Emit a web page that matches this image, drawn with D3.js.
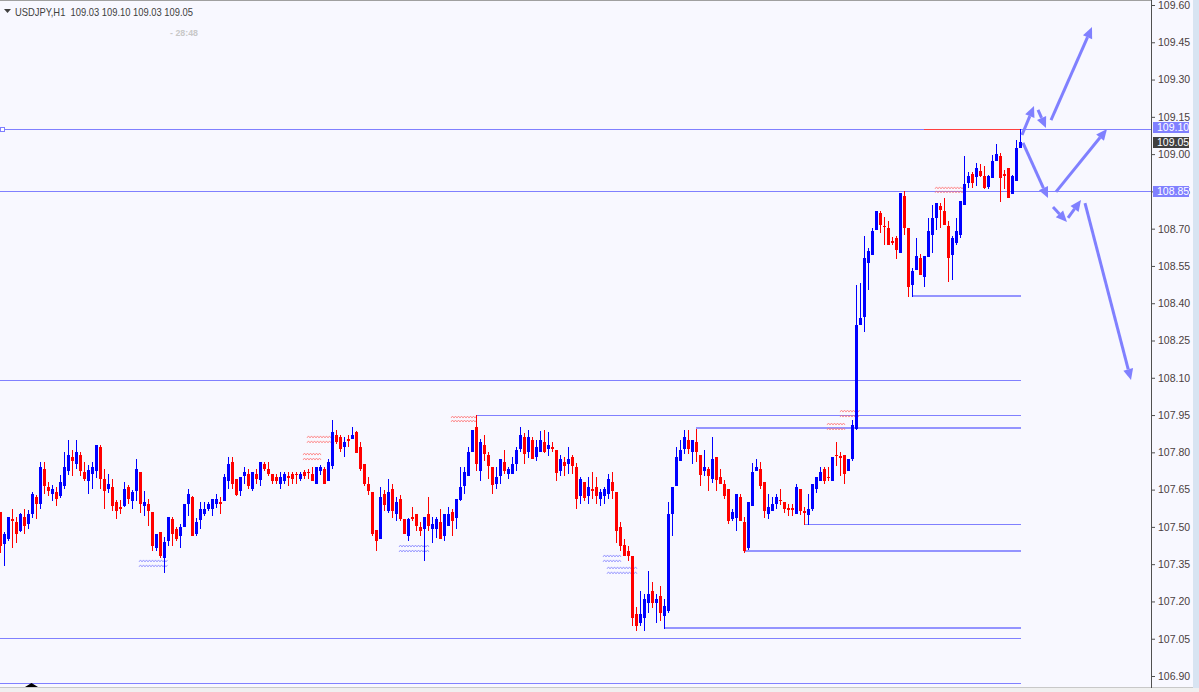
<!DOCTYPE html>
<html><head><meta charset="utf-8">
<script src="https://cdn.jsdelivr.net/npm/d3@7"></script>
<style>html,body{margin:0;padding:0;background:#f8f8ff;overflow:hidden}svg{display:block}</style>
</head><body><svg id="c" width="1199" height="692"></svg>
<script>
const symbol = "USDJPY,H1";
const opens = [107.561,107.437,107.454,107.532,107.521,107.487,107.538,107.517,107.555,107.622,107.595,107.733,107.659,107.638,107.640,107.628,107.669,107.729,107.781,107.758,107.789,107.721,107.689,107.718,107.729,107.821,107.693,107.656,107.660,107.600,107.581,107.588,107.660,107.608,107.648,107.721,107.588,107.592,107.560,107.420,107.479,107.380,107.447,107.532,107.491,107.467,107.504,107.595,107.620,107.477,107.530,107.555,107.575,107.575,107.595,107.601,107.608,107.689,107.761,107.693,107.648,107.709,107.713,107.656,107.713,107.693,107.753,107.733,107.713,107.701,107.678,107.689,107.703,107.713,107.714,107.698,107.721,107.722,107.713,107.678,107.729,107.733,107.689,107.749,107.871,107.862,107.827,107.852,107.859,107.882,107.821,107.753,107.673,107.640,107.488,107.455,107.632,107.568,107.652,107.557,107.612,107.532,107.467,107.540,107.552,107.500,107.497,107.552,107.497,107.497,107.520,107.467,107.509,107.560,107.538,107.612,107.668,107.709,107.805,107.902,107.730,107.829,107.789,107.741,107.678,107.709,107.761,107.717,107.717,107.757,107.819,107.862,107.807,107.850,107.787,107.807,107.842,107.819,107.821,107.809,107.729,107.761,107.757,107.781,107.741,107.628,107.681,107.628,107.652,107.660,107.616,107.628,107.638,107.681,107.640,107.501,107.427,107.404,107.383,107.149,107.117,107.137,107.198,107.242,107.198,107.222,107.145,107.166,107.556,107.669,107.769,107.819,107.850,107.807,107.842,107.789,107.729,107.733,107.695,107.781,107.701,107.673,107.652,107.536,107.541,107.620,107.520,107.420,107.588,107.729,107.733,107.681,107.556,107.568,107.597,107.610,107.600,107.575,107.575,107.556,107.652,107.562,107.552,107.576,107.656,107.689,107.733,107.702,107.689,107.791,107.784,107.791,107.729,107.778,107.897,108.317,108.349,108.567,108.598,108.699,108.763,108.712,108.703,108.650,108.663,108.608,108.832,108.703,108.478,108.538,108.582,108.510,108.590,108.679,108.747,108.791,108.771,108.711,108.598,108.646,108.679,108.799,108.889,108.919,108.913,108.932,108.913,108.873,108.909,108.978,108.992,108.919,108.943,108.842,108.896,109.03];
const highs = [107.561,107.481,107.541,107.572,107.541,107.554,107.572,107.568,107.642,107.628,107.762,107.762,107.679,107.669,107.662,107.709,107.800,107.850,107.809,107.850,107.801,107.761,107.749,107.761,107.829,107.829,107.733,107.713,107.691,107.608,107.608,107.681,107.669,107.648,107.773,107.722,107.644,107.612,107.560,107.471,107.479,107.458,107.540,107.540,107.500,107.513,107.592,107.652,107.624,107.535,107.599,107.599,107.601,107.612,107.631,107.620,107.713,107.783,107.783,107.693,107.701,107.741,107.733,107.721,107.733,107.761,107.761,107.761,107.713,107.713,107.721,107.721,107.721,107.721,107.721,107.721,107.729,107.733,107.741,107.741,107.749,107.741,107.775,107.930,107.890,107.871,107.862,107.871,107.903,107.887,107.843,107.753,107.701,107.640,107.488,107.659,107.648,107.693,107.673,107.620,107.628,107.532,107.534,107.580,107.552,107.520,107.538,107.620,107.541,107.541,107.572,107.552,107.580,107.572,107.612,107.741,107.741,107.821,107.890,107.950,107.854,107.870,107.803,107.741,107.741,107.773,107.809,107.741,107.781,107.821,107.902,107.879,107.890,107.862,107.850,107.887,107.890,107.882,107.842,107.809,107.789,107.781,107.821,107.789,107.757,107.702,107.681,107.702,107.721,107.701,107.652,107.660,107.713,107.721,107.640,107.518,107.451,107.423,107.383,107.179,107.242,107.229,107.322,107.279,107.230,107.262,107.210,107.599,107.660,107.821,107.850,107.890,107.890,107.850,107.895,107.789,107.809,107.741,107.863,107.781,107.733,107.689,107.652,107.572,107.632,107.632,107.541,107.600,107.757,107.773,107.761,107.681,107.632,107.620,107.632,107.652,107.600,107.592,107.592,107.673,107.652,107.580,107.632,107.673,107.701,107.741,107.741,107.741,107.781,107.841,107.801,107.791,107.773,107.930,108.473,108.481,108.671,108.622,108.703,108.771,108.771,108.747,108.731,108.667,108.671,108.844,108.852,108.703,108.542,108.663,108.598,108.590,108.743,108.795,108.803,108.803,108.823,108.731,108.671,108.743,108.811,108.994,108.929,108.929,108.963,108.959,108.953,108.916,108.996,109.041,109.003,108.936,108.943,108.916,109.057,109.10];
const lows = [107.400,107.347,107.447,107.420,107.441,107.485,107.474,107.497,107.541,107.537,107.577,107.638,107.628,107.608,107.588,107.622,107.658,107.713,107.709,107.738,107.709,107.689,107.638,107.655,107.702,107.655,107.575,107.642,107.568,107.537,107.555,107.584,107.595,107.577,107.608,107.559,107.548,107.508,107.407,107.407,107.380,107.320,107.427,107.427,107.447,107.420,107.504,107.548,107.467,107.467,107.497,107.548,107.568,107.548,107.579,107.557,107.608,107.656,107.656,107.628,107.628,107.678,107.656,107.648,107.675,107.668,107.729,107.709,107.678,107.678,107.656,107.678,107.668,107.678,107.678,107.689,107.698,107.698,107.689,107.678,107.713,107.678,107.689,107.737,107.836,107.807,107.787,107.827,107.859,107.803,107.729,107.668,107.632,107.467,107.407,107.455,107.568,107.561,107.538,107.528,107.528,107.477,107.447,107.528,107.488,107.467,107.367,107.488,107.441,107.461,107.457,107.447,107.509,107.467,107.497,107.608,107.637,107.709,107.805,107.729,107.689,107.769,107.697,107.637,107.656,107.678,107.717,107.697,107.717,107.729,107.807,107.757,107.781,107.779,107.769,107.807,107.803,107.789,107.807,107.689,107.709,107.709,107.717,107.717,107.575,107.596,107.608,107.596,107.616,107.596,107.588,107.596,107.616,107.616,107.441,107.407,107.387,107.367,107.105,107.085,107.105,107.085,107.157,107.179,107.117,107.125,107.092,107.157,107.467,107.669,107.769,107.797,107.797,107.758,107.766,107.669,107.709,107.648,107.682,107.648,107.678,107.616,107.514,107.528,107.487,107.528,107.400,107.410,107.588,107.729,107.656,107.541,107.536,107.568,107.576,107.592,107.560,107.548,107.548,107.556,107.552,107.512,107.512,107.568,107.640,107.689,107.675,107.689,107.689,107.749,107.709,107.678,107.729,107.769,107.893,108.317,108.290,108.457,108.598,108.699,108.688,108.640,108.640,108.640,108.580,108.608,108.679,108.431,108.431,108.538,108.518,108.470,108.590,108.606,108.699,108.707,108.719,108.490,108.498,108.638,108.667,108.799,108.869,108.869,108.876,108.913,108.865,108.865,108.909,108.978,108.811,108.862,108.829,108.842,108.896,109.03];
const closes = [107.427,107.471,107.538,107.528,107.477,107.552,107.508,107.552,107.632,107.597,107.742,107.669,107.648,107.652,107.618,107.681,107.741,107.789,107.769,107.801,107.729,107.697,107.729,107.741,107.829,107.697,107.648,107.673,107.588,107.568,107.578,107.652,107.616,107.640,107.733,107.597,107.600,107.568,107.427,107.471,107.387,107.439,107.540,107.477,107.455,107.500,107.592,107.632,107.467,107.521,107.572,107.572,107.592,107.612,107.612,107.598,107.701,107.753,107.678,107.632,107.701,107.721,107.668,107.721,107.698,107.761,107.737,107.717,107.689,107.689,107.701,107.713,107.700,107.698,107.711,107.713,107.709,107.719,107.689,107.741,107.741,107.678,107.761,107.882,107.847,107.819,107.843,107.849,107.871,107.803,107.737,107.678,107.648,107.477,107.447,107.620,107.591,107.640,107.568,107.600,107.534,107.477,107.532,107.537,107.509,107.488,107.538,107.509,107.512,107.532,107.457,107.552,107.552,107.528,107.612,107.661,107.721,107.801,107.890,107.757,107.843,107.798,107.749,107.671,107.701,107.773,107.729,107.733,107.753,107.809,107.871,107.799,107.862,107.779,107.821,107.850,107.807,107.829,107.818,107.721,107.773,107.749,107.773,107.749,107.616,107.693,107.619,107.660,107.649,107.628,107.640,107.651,107.693,107.648,107.488,107.427,107.387,107.387,107.139,107.105,107.149,107.210,107.229,107.198,107.210,107.157,107.182,107.552,107.660,107.781,107.809,107.862,107.819,107.850,107.807,107.712,107.741,107.709,107.773,107.691,107.678,107.628,107.528,107.560,107.632,107.528,107.407,107.600,107.721,107.741,107.669,107.568,107.580,107.592,107.620,107.607,107.576,107.572,107.572,107.660,107.568,107.559,107.572,107.673,107.701,107.721,107.689,107.699,107.781,107.788,107.781,107.717,107.773,107.910,108.313,108.341,108.582,108.610,108.691,108.771,108.720,108.710,108.640,108.647,108.618,108.844,108.707,108.470,108.530,108.590,108.518,108.590,108.691,108.743,108.803,108.779,108.719,108.586,108.663,108.691,108.811,108.878,108.912,108.889,108.943,108.916,108.869,108.913,108.974,108.999,108.909,108.916,108.829,108.913,109.023,109.05];

const yTicks = [109.60,109.45,109.30,109.15,109.00,108.85,108.70,108.55,108.40,108.25,108.10,107.95,107.80,107.65,107.50,107.35,107.20,107.05,106.90];
// horizontal levels: price, first bar, last bar (null = to the price axis), kind
const levelPrices = [109.10,108.85,108.091,107.950,107.898,108.429,107.512,107.403,107.093,107.053,106.872];
const levelStart  = [0,0,0,119,174,228,201,186,166,0,0];
const levelEnd    = [null,null,255,255,255,255,255,255,255,255,255];
const levelKind   = ["thin","thin","thin","thin","thick","thick","thin","thick","thick","thin","thin"];
// forecast arrows: [bar, price] -> [bar, price]
const arrowFrom = [[255.5,109.077],[259.5,109.178],[262.75,109.137],[255.75,109.045],[264,108.848],[263.25,108.787],[267,108.743],[271.25,108.803]];
const arrowTo   = [[258.5,109.194],[261.5,109.105],[273,109.511],[262,108.823],[276.75,109.101],[266.75,108.727],[270.25,108.815],[282.75,108.091]];
// wavy order markers: first bar, last bar, price, side
const markerStart = [34.75,34.75,76.75,76.75,75.75,75.75,99.75,99.75,112.75,112.75,150.75,150.75,151.75,151.75,210,210,206.75,206.75,233.75,233.75];
const markerEnd   = [42,42,83.5,83.5,80.25,80.25,107.25,107.25,119.25,119.25,155.25,155.25,159.25,159.25,215,215,211.25,211.25,241.25,241.25];
const markerPrice = [107.363,107.343,107.862,107.842,107.793,107.773,107.423,107.403,107.942,107.926,107.383,107.363,107.335,107.315,107.966,107.946,107.914,107.894,108.864,108.848];
const markerSide  = ["b","b","s","s","s","s","b","b","s","s","b","b","b","b","s","s","s","s","s","s"];

const W = 1199, H = 692, AXIS_X = 1151;
const svg = d3.select("#c");
const x = d3.scaleLinear().domain([0, 255]).range([0, 1020]);
const y = d3.scaleLinear().domain([106.90, 109.60]).range([676, 5]);
const LINE = "#8080ff";

svg.append("rect").attr("width", W).attr("height", H).attr("fill", "#f8f8ff");
svg.append("rect").attr("x", 1193).attr("y", 0).attr("width", 6).attr("height", H).attr("fill", "#d8e4f2");
svg.append("rect").attr("x", 0).attr("y", 688).attr("width", W).attr("height", 4).attr("fill", "#f0f0f0");
svg.append("line").attr("x1", 0).attr("x2", 1193).attr("y1", 687.5).attr("y2", 687.5).attr("stroke", "#c8c8c8");
svg.append("line").attr("x1", 0).attr("x2", AXIS_X).attr("y1", 0.5).attr("y2", 0.5).attr("stroke", "#a0a0a0");

// levels
const g = svg.append("g").attr("shape-rendering", "crispEdges");
levelPrices.forEach((p, i) => {
  const yy = Math.round(y(p)) + (levelKind[i] === "thick" ? 0 : 0.5);
  g.append("line")
    .attr("x1", x(levelStart[i])).attr("x2", levelEnd[i] === null ? AXIS_X : x(levelEnd[i]) + 1)
    .attr("y1", yy).attr("y2", yy)
    .attr("stroke", levelKind[i] === "thick" ? "#9494ff" : LINE)
    .attr("stroke-width", levelKind[i] === "thick" ? 2 : 1);
});
// red bid line segment
g.append("line").attr("x1", x(231)).attr("x2", x(255)).attr("y1", Math.round(y(109.10)) + 0.5).attr("y2", Math.round(y(109.10)) + 0.5)
  .attr("stroke", "#ff4040").attr("stroke-width", 1);
svg.append("rect").attr("x", 0.5).attr("y", Math.round(y(109.10)) - 1.5).attr("width", 4).attr("height", 4)
  .attr("fill", "#fff").attr("stroke", LINE);

// markers
const mk = svg.append("g");
markerPrice.forEach((p, i) => {
  const x0 = x(markerStart[i]), x1 = x(markerEnd[i]), yy = y(p);
  const pts = [];
  for (let xx = x0, j = 0; xx <= x1; xx += 1.5, j++) pts.push([xx, yy + (j % 2 ? -1 : 1)]);
  mk.append("path").attr("d", d3.line()(pts)).attr("fill", "none")
    .attr("stroke", markerSide[i] === "s" ? "#ff7070" : "#7f7fff").attr("stroke-width", 1).attr("opacity", 0.75);
});

// candles
const data = opens.map((o, i) => ({i, o, h: highs[i], l: lows[i], c: closes[i]}));
const cg = svg.append("g").attr("shape-rendering", "crispEdges");
data.forEach(d => {
  const cx = Math.round(x(d.i));
  const col = d.c >= d.o ? "#0000ff" : "#ff0000";
  const yh = Math.round(y(d.h)), yl = Math.round(y(d.l));
  cg.append("rect").attr("x", cx).attr("y", yh).attr("width", 1).attr("height", Math.max(1, yl - yh + 1)).attr("fill", col);
  const yt = Math.round(y(Math.max(d.o, d.c))), yb = Math.round(y(Math.min(d.o, d.c)));
  cg.append("rect").attr("x", cx - 1).attr("y", yt).attr("width", 3).attr("height", Math.max(1, yb - yt + 1)).attr("fill", col);
});

// arrows
const ag = svg.append("g");
arrowFrom.forEach((f, i) => {
  const t = arrowTo[i];
  const x1 = x(f[0]), y1 = y(f[1]), x2 = x(t[0]), y2 = y(t[1]);
  const ang = Math.atan2(y2 - y1, x2 - x1);
  const L = 11, Wd = 5;
  const bx = x2 - L * Math.cos(ang), by = y2 - L * Math.sin(ang);
  ag.append("line").attr("x1", x1).attr("y1", y1).attr("x2", bx).attr("y2", by)
    .attr("stroke", LINE).attr("stroke-width", 3);
  const px = -Math.sin(ang) * Wd, py = Math.cos(ang) * Wd;
  ag.append("path").attr("d", `M${x2},${y2}L${bx + px},${by + py}L${bx - px},${by - py}Z`).attr("fill", LINE);
});

// axis
svg.append("line").attr("x1", AXIS_X + 0.5).attr("x2", AXIS_X + 0.5).attr("y1", 0).attr("y2", 688)
  .attr("stroke", "#505050").attr("shape-rendering", "crispEdges");
const axis = d3.axisRight(y).tickValues(yTicks).tickFormat(d3.format(".2f")).tickSize(3).tickPadding(3);
const ax = svg.append("g").attr("transform", `translate(${AXIS_X + 1},0)`).call(axis);
ax.select(".domain").remove();
ax.selectAll("line").attr("stroke", "#505050");
ax.selectAll("text").attr("font-family", "Liberation Sans, Arial, sans-serif").attr("font-size", 10.5).attr("fill", "#4a4040");

// price labels
function tag(p, txt, bg, dy) {
  const yy = Math.round(y(p));
  svg.append("rect").attr("x", 1153).attr("y", yy - 5 + dy).attr("width", 36).attr("height", 11).attr("fill", bg);
  svg.append("text").attr("x", 1157).attr("y", yy + 4 + dy).text(txt)
    .attr("font-family", "Liberation Sans, Arial, sans-serif").attr("font-size", 10.5).attr("fill", "#ffffff");
}
tag(levelPrices[0], d3.format(".2f")(levelPrices[0]), "#8080ff", -2);
tag(closes[closes.length - 1], d3.format(".2f")(closes[closes.length - 1]), "#404040", 0);
tag(levelPrices[1], d3.format(".2f")(levelPrices[1]), "#8080ff", 0);

// header
const last = data[data.length - 1];
svg.append("path").attr("d", "M4,9L11,9L7.5,13Z").attr("fill", "#404040");
svg.append("text").attr("x", 15).attr("y", 16).attr("xml:space", "preserve")
  .text(`${symbol}  ${[last.o, last.h, last.l, last.c].map(d3.format(".2f")).join(" ")}`)
  .attr("textLength", 178).attr("lengthAdjust", "spacingAndGlyphs")
  .attr("font-family", "Liberation Sans, Arial, sans-serif").attr("font-size", 11).attr("fill", "#404040");
svg.append("text").attr("x", 170).attr("y", 36).text("- 28:48")
  .attr("textLength", 28).attr("lengthAdjust", "spacingAndGlyphs")
  .attr("font-family", "Liberation Sans, Arial, sans-serif").attr("font-size", 9).attr("font-weight", "bold").attr("fill", "#c8c8c8");
// shift marker
svg.append("path").attr("d", "M25,687L38,687L31.5,683Z").attr("fill", "#000");
</script></body></html>
